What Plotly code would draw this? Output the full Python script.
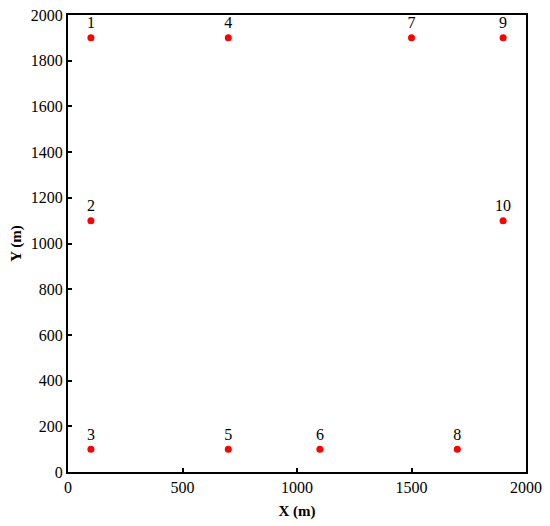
import plotly.graph_objects as go

# sensor positions (m)
x_pos = [100, 100, 100, 700, 700, 1100, 1500, 1700, 1900, 1900]
y_pos = [1900, 1100, 100, 1900, 100, 100, 1900, 100, 1900, 1100]
labels = ["1", "2", "3", "4", "5", "6", "7", "8", "9", "10"]

font_family = "Liberation Serif"

fig = go.Figure()
fig.add_trace(go.Scatter(
    x=x_pos, y=y_pos, mode="markers+text", text=labels,
    textposition="top center",
    textfont=dict(family=font_family, size=16, color="black"),
    marker=dict(color="#ff0000", size=7),
    showlegend=False,
))

axis_style = dict(
    range=[0, 2000],
    ticks="inside", ticklen=4, tickwidth=2, tickcolor="black",
    showline=True, linewidth=2, linecolor="black", mirror=True,
    showgrid=False, zeroline=False,
    tickfont=dict(family=font_family, size=16, color="black"),
)
fig.update_xaxes(axis_style, tickvals=[0, 500, 1000, 1500, 2000],
                 title=dict(text="<b>X (m)</b>", font=dict(family=font_family, size=15), standoff=10))
fig.update_yaxes(axis_style, dtick=200,
                 title=dict(text="<b>Y (m)</b>", font=dict(family=font_family, size=15), standoff=6))

fig.update_layout(
    width=550, height=526,
    margin=dict(l=68, r=24, t=15, b=54, autoexpand=False),
    plot_bgcolor="white", paper_bgcolor="white",
    font=dict(family=font_family, color="black"),
)

fig.write_html("out.html", config={"displayModeBar": False},
               post_script="document.body.style.margin='0';")
